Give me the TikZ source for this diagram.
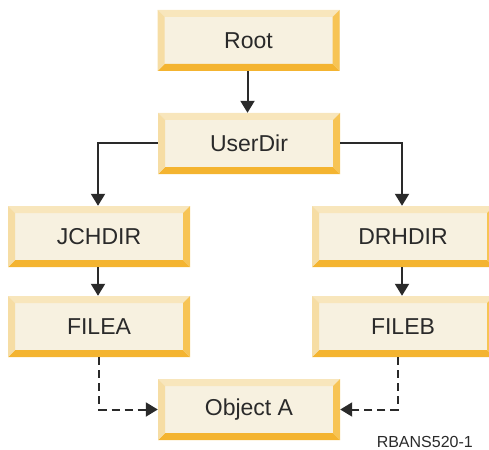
\documentclass[tikz,border=0pt]{standalone}
\usepackage{fontspec}
\setmainfont{Liberation Sans}
\usetikzlibrary{arrows.meta}
\definecolor{face}{HTML}{F7F1E0}
\definecolor{bevtop}{HTML}{F8E6BC}
\definecolor{bevleft}{HTML}{F6DDA4}
\definecolor{bevright}{HTML}{F7C455}
\definecolor{bevbot}{HTML}{F4B430}
\definecolor{ink}{HTML}{2A2A2A}
\newcommand{\bv}{7pt}
\tikzset{
  bevbox/.style={minimum width=182pt, minimum height=61pt, inner sep=0pt, fill=face,
    text=ink, font=\fontsize{23}{26}\selectfont,
    path picture={
      \fill[bevtop] (path picture bounding box.north west) -- (path picture bounding box.north east)
        -- ([xshift=-\bv,yshift=-\bv]path picture bounding box.north east)
        -- ([xshift=\bv,yshift=-\bv]path picture bounding box.north west) -- cycle;
      \fill[bevbot] (path picture bounding box.south west) -- (path picture bounding box.south east)
        -- ([xshift=-\bv,yshift=\bv]path picture bounding box.south east)
        -- ([xshift=\bv,yshift=\bv]path picture bounding box.south west) -- cycle;
      \fill[bevleft] (path picture bounding box.north west) -- (path picture bounding box.south west)
        -- ([xshift=\bv,yshift=\bv]path picture bounding box.south west)
        -- ([xshift=\bv,yshift=-\bv]path picture bounding box.north west) -- cycle;
      \fill[bevright] (path picture bounding box.north east) -- (path picture bounding box.south east)
        -- ([xshift=-\bv,yshift=\bv]path picture bounding box.south east)
        -- ([xshift=-\bv,yshift=-\bv]path picture bounding box.north east) -- cycle;
    }},
  conn/.style={draw=ink, line width=2pt, -{Triangle[width=14pt,length=12pt]}},
  dconn/.style={conn, dash pattern=on 8pt off 5pt}
}
\begin{document}
\begin{tikzpicture}[x=1pt,y=-1pt]
\useasboundingbox (0,0) rectangle (489,449);
\clip (0,0) rectangle (489,449);
\node[bevbox] (Root) at (248.5,40.5) {Root};
\node[bevbox] (UserDir) at (249,143.5) {UserDir};
\node[bevbox] (JCHDIR) at (99,236.5) {JCHDIR};
\node[bevbox] (FILEA) at (99,326.5) {FILEA};
\node[bevbox] (DRHDIR) at (403,236.5) {DRHDIR};
\node[bevbox] (FILEB) at (403,326.5) {FILEB};
\node[bevbox] (ObjA) at (249,409.5) {Object A};
\node[anchor=base east, text=ink, font=\fontsize{16}{18}\selectfont, inner sep=0pt] (lbl) at (473,447) {RBANS520-1};
\draw[conn] ([xshift=-1pt]Root.south) -- ([xshift=-1.5pt]UserDir.north);
\draw[conn] (UserDir.west) -| ([xshift=-1pt]JCHDIR.north);
\draw[conn] (UserDir.east) -| ([xshift=-1pt]DRHDIR.north);
\draw[conn] ([xshift=-1pt]JCHDIR.south) -- ([xshift=-1pt]FILEA.north);
\draw[conn] ([xshift=-1pt]DRHDIR.south) -- ([xshift=-1pt]FILEB.north);
\draw[dconn] (FILEA.south) |- (ObjA.west);
\draw[dconn] ([xshift=-5pt]FILEB.south) |- (ObjA.east);
\end{tikzpicture}
\end{document}
